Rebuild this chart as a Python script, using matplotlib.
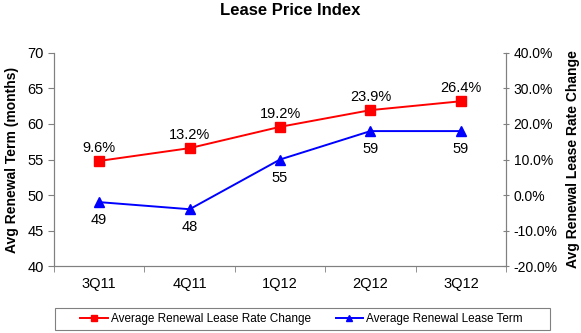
import matplotlib

matplotlib.use("Agg")

import matplotlib.pyplot as plt
from matplotlib.patches import Rectangle
from matplotlib.ticker import FuncFormatter, FixedLocator

quarters = ["3Q11", "4Q11", "1Q12", "2Q12", "3Q12"]
lease_term = [49, 48, 55, 59, 59]
rate_change = [9.6, 13.2, 19.2, 23.9, 26.4]

plt.rcParams["font.family"] = ["Liberation Sans", "DejaVu Sans"]

fig = plt.figure(figsize=(5.81, 3.33), dpi=100)
ax = fig.add_axes([0.093, 0.201, 0.778, 0.640])
ax2 = ax.twinx()

x = list(range(len(quarters)))
gray = "#808080"

ax.plot(x, lease_term, color="#0000ff", marker="^", markersize=7, lw=1.4,
        label="Average Renewal Lease Term", zorder=3)
ax2.plot(x, rate_change, color="#ff0000", marker="s", markersize=6.5, lw=1.4,
         label="Average Renewal Lease Rate Change", zorder=3)

for xi, v in zip(x, lease_term):
    ax.annotate(f"{v}", (xi, v), xytext=(0, -8), textcoords="offset points",
                ha="center", va="top", fontsize=10.5)
for xi, v in zip(x, rate_change):
    ax2.annotate(f"{v:.1f}%", (xi, v), xytext=(0, 4.5), textcoords="offset points",
                 ha="center", va="bottom", fontsize=10.5)

ax.set_xlim(-0.5, len(quarters) - 0.5)
ax.set_ylim(40, 70)
ax.set_yticks(range(40, 71, 5))
ax2.set_ylim(-20, 40)
ax2.set_yticks(range(-20, 41, 10))
ax2.yaxis.set_major_formatter(FuncFormatter(lambda v, _: f"{v:.1f}%"))

ax.set_xticks(x)
ax.set_xticklabels(quarters, fontsize=10.5)
ax.xaxis.set_minor_locator(FixedLocator([i - 0.5 for i in range(len(quarters) + 1)]))
ax.tick_params(axis="x", which="major", length=0, pad=8)
ax.tick_params(axis="x", which="minor", length=4, color=gray, direction="out")
ax.tick_params(axis="y", labelsize=10.5, color=gray, length=4, direction="out")
ax2.tick_params(axis="y", labelsize=10, color=gray, length=4, direction="inout")

for a in (ax, ax2):
    a.spines["top"].set_visible(False)
    for s in ("left", "right", "bottom"):
        a.spines[s].set_color(gray)

ax.set_ylabel("Avg Renewal Term (months)", fontsize=10, fontweight="bold", labelpad=6)
ax2.set_ylabel("Avg Renewal Lease Rate Change", fontsize=10, fontweight="bold", labelpad=6)

fig.suptitle("Lease Price Index", fontsize=12, fontweight="bold", y=0.99)

# legend box is wider than its contents, so draw the frame separately
fig.patches.append(Rectangle((0.0947, 0.009), 0.852, 0.066, transform=fig.transFigure,
                             facecolor="white", edgecolor=gray, linewidth=0.8))
h1, l1 = ax2.get_legend_handles_labels()
h2, l2 = ax.get_legend_handles_labels()
fig.legend(h1 + h2, l1 + l2, loc="center", bbox_to_anchor=(0.519, 0.042),
           ncol=2, fontsize=8.5, frameon=False, handlelength=2.35,
           handletextpad=0.25, columnspacing=2.1, borderpad=0, markerscale=0.7)

fig.savefig("out.png", dpi=100)
